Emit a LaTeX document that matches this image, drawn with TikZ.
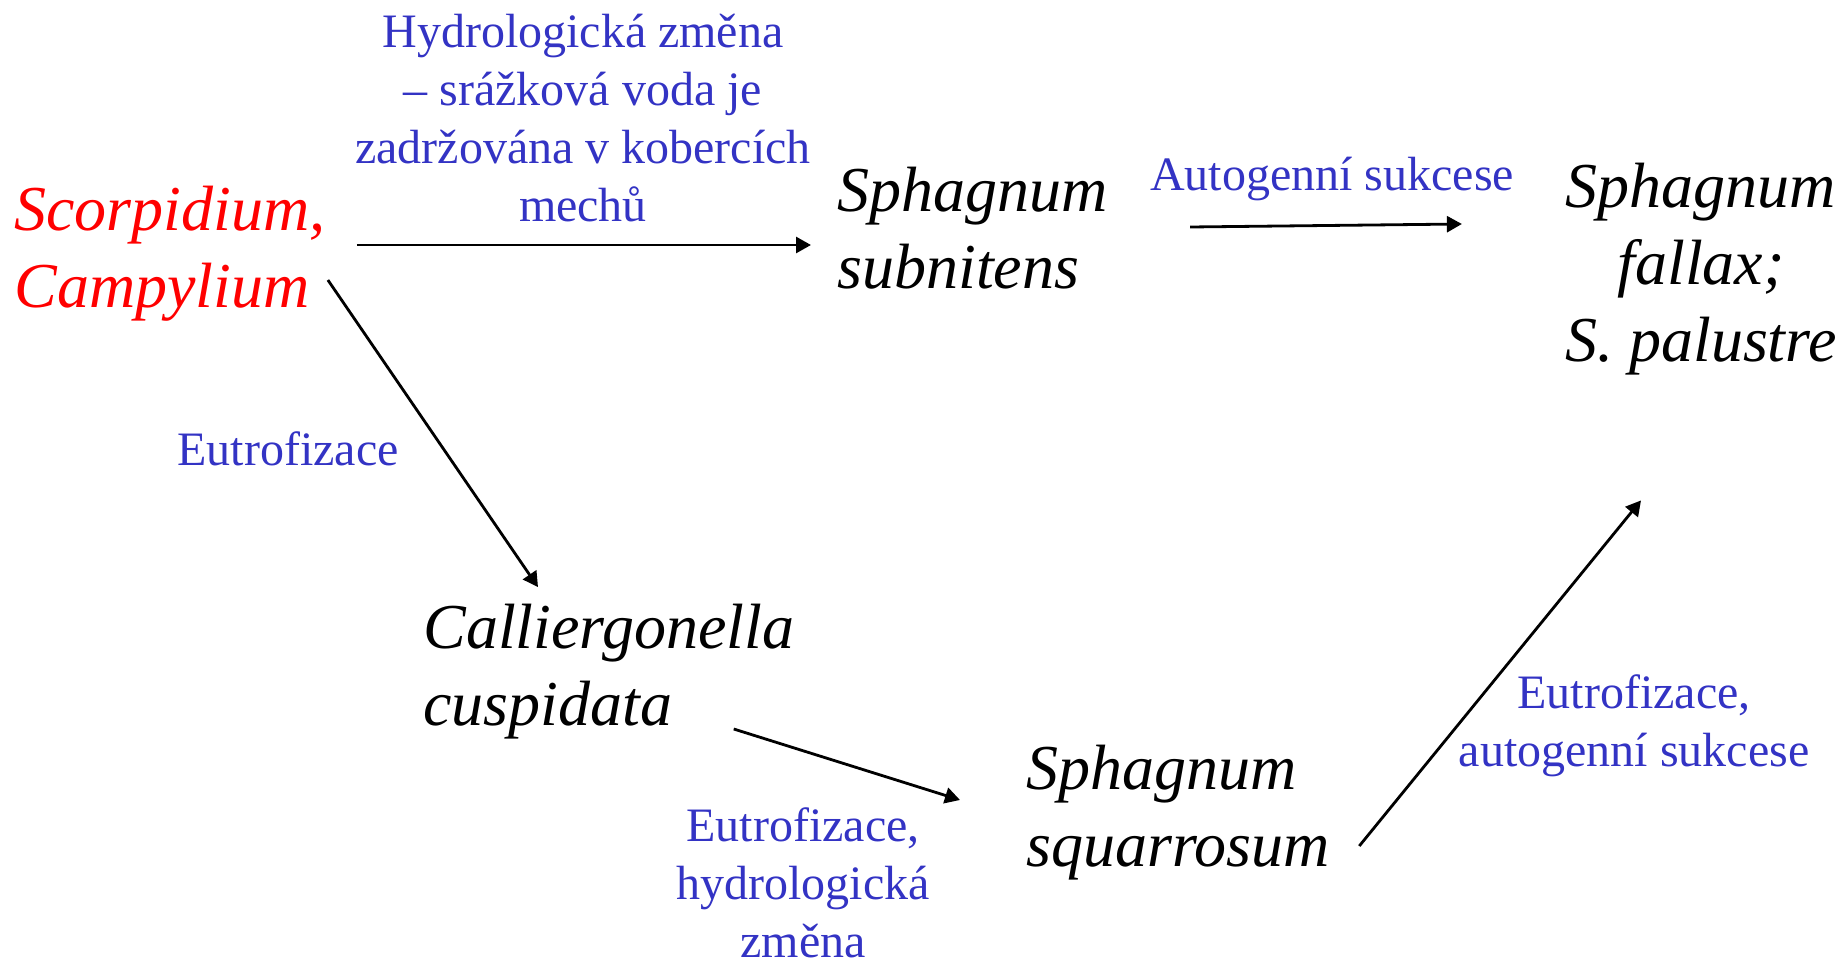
\documentclass[tikz,border=0pt]{standalone}
\usepackage{fontspec}
\setmainfont{Liberation Serif}
\usepackage{xcolor}
\usepackage{tikz}
\usetikzlibrary{arrows.meta,calc}
\definecolor{sedge}{HTML}{3333C4}
\definecolor{moss}{HTML}{FF0000}

\begin{document}
\begin{tikzpicture}[x=0.5pt,y=-0.5pt,
   sp/.style={font=\fontsize{32}{38.5}\selectfont\itshape,inner sep=0pt,align=left},
   spc/.style={sp,align=center},
   lab/.style={font=\fontsize{24}{29}\selectfont,text=sedge,inner sep=0pt,align=center},
   fl/.style={-{Triangle[length=7.5pt,width=8pt]},line width=1.4pt}]
  \useasboundingbox (0,0) rectangle (1843,958);
  \node[sp,text=moss,anchor=west] (scorp) at (14,254) {Scorpidium,\\Campylium};
  \node[sp,anchor=west] (subn) at (837,228) {Sphagnum\\subnitens};
  \node[spc] (fallax) at (1701,269) {Sphagnum\\fallax;\\S. palustre};
  \node[sp,anchor=west] (calli) at (423,672) {Calliergonella\\cuspidata};
  \node[sp,anchor=west] (squarr) at (1026,813) {Sphagnum\\squarrosum};
  \node[lab] (hydro) at (583,118) {Hydrologická změna\\– srážková voda je\\zadržována v kobercích\\mechů};
  \node[lab] (auto) at (1332,179) {Autogenní sukcese};
  \node[lab] (eutro) at (288,449) {Eutrofizace};
  \node[lab] (eutrohyd) at (803,883) {Eutrofizace,\\hydrologická\\změna};
  \node[lab] (eutroaut) at (1634,726) {Eutrofizace,\\autogenní sukcese};
  \draw[fl] ($(scorp.east)+(31,-9)$) -- ($(subn.west)+(-26,17)$);
  \draw[fl] ($(subn.east)+(82,-1)$) -- ($(fallax.west)+(-103,-45)$);
  \draw[fl] ($(scorp.south east)+(2,-42)$) -- ($(calli.north west)+(115,-17)$);
  \draw[fl] ($(calli.east)+(-61,57)$) -- ($(squarr.west)+(-66,-13)$);
  \draw[fl] ($(squarr.east)+(29,33)$) -- ($(fallax.south)+(-60,125)$);
\end{tikzpicture}
\end{document}
